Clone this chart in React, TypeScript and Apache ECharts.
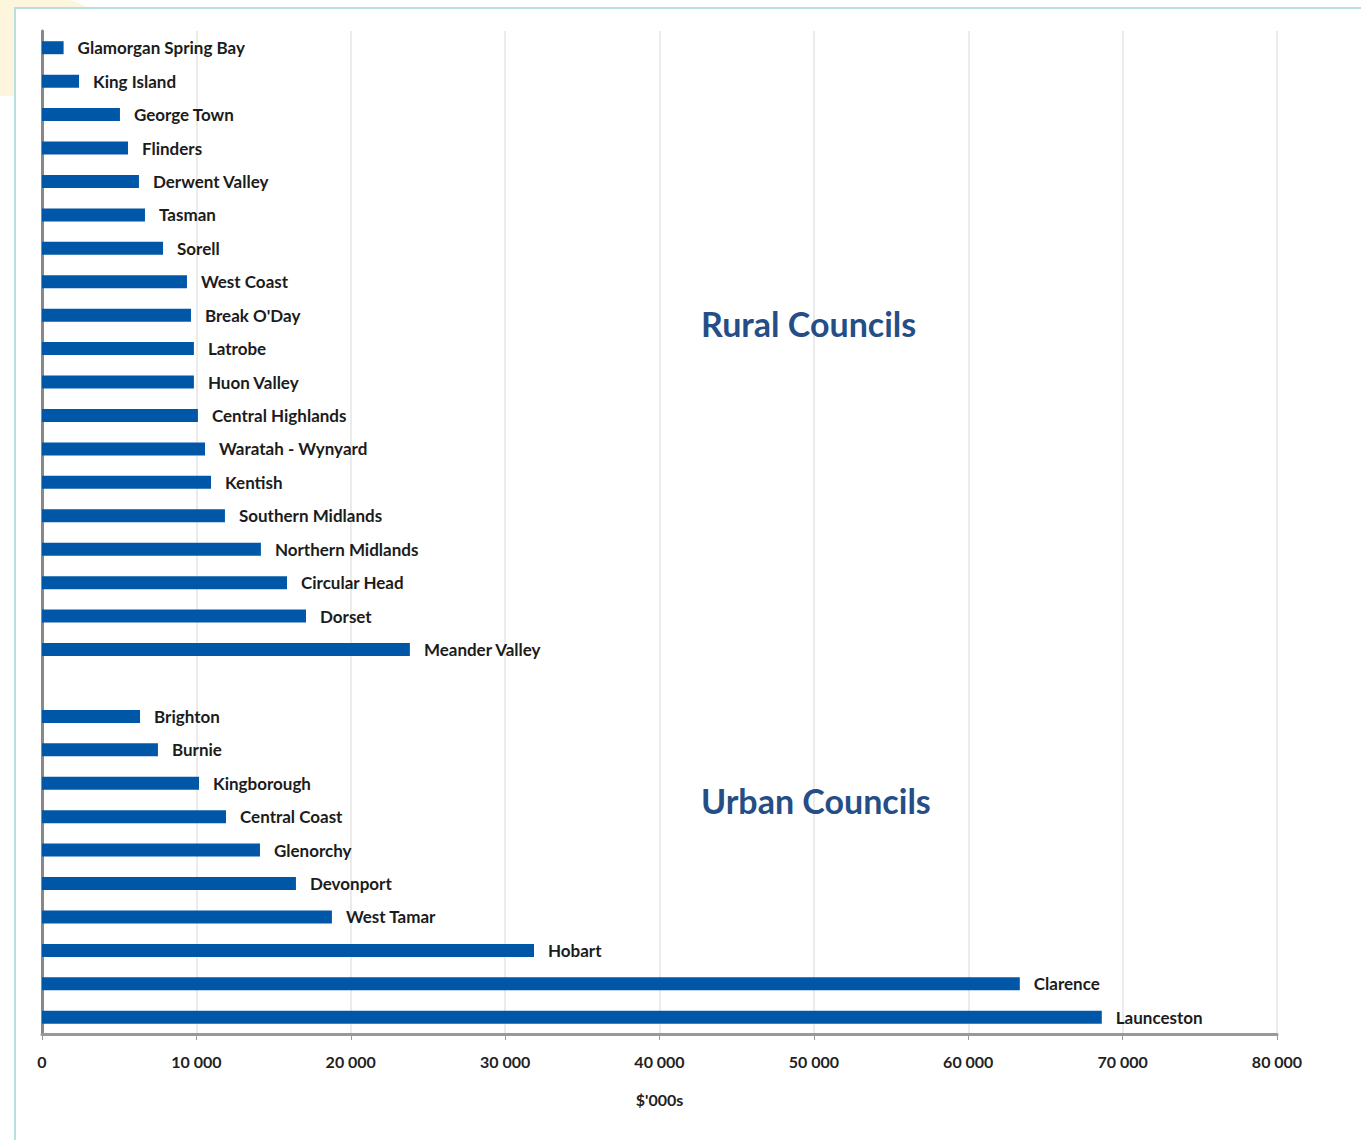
import React, { useEffect, useRef } from "react";
import * as echarts from "echarts";

const categories: string[] = [
  "Glamorgan Spring Bay", "King Island", "George Town", "Flinders", "Derwent Valley",
  "Tasman", "Sorell", "West Coast", "Break O'Day", "Latrobe", "Huon Valley",
  "Central Highlands", "Waratah - Wynyard", "Kentish", "Southern Midlands",
  "Northern Midlands", "Circular Head", "Dorset", "Meander Valley",
  "",
  "Brighton", "Burnie", "Kingborough", "Central Coast", "Glenorchy", "Devonport",
  "West Tamar", "Hobart", "Clarence", "Launceston",
];

const values: (number | null)[] = [
  1400, 2400, 5050, 5570, 6280, 6670, 7840, 9390, 9650, 9840, 9840,
  10100, 10560, 10950, 11850, 14180, 15870, 17100, 23830,
  null,
  6350, 7510, 10170, 11920, 14120, 16450, 18780, 31870, 63340, 68650,
];

const groupLabels = ["Rural Councils", "Urban Councils"];
const xTicks = { min: 0, max: 80000, interval: 10000 };
const axisTitle = "$'000s";

const FONT = "Lato, 'Open Sans', sans-serif";

export default function App() {
  const ref = useRef<HTMLDivElement>(null);
  useEffect(() => {
    if (!ref.current) return;
    const chart = echarts.init(ref.current, null, { renderer: "svg" });
    chart.setOption({
      animation: false,
      backgroundColor: "#ffffff",
      grid: { left: 42, right: 84, top: 31, bottom: 106, containLabel: false },
      graphic: [
        {
          type: "rect", z: -10, silent: true,
          shape: { x: 0, y: 0, width: 96, height: 96, r: [0, 30, 0, 0] },
          style: { fill: "#fef5dd" },
        },
        {
          type: "rect", z: -9, silent: true,
          shape: { x: 15, y: 8, width: 1400, height: 1200 },
          style: { fill: "#ffffff", stroke: "#b8e0e2", lineWidth: 2 },
        },
        {
          type: "text", left: 701, top: 306, z: 10,
          style: { text: groupLabels[0], font: `bold 34px ${FONT}`, fill: "#254e86" },
        },
        {
          type: "text", left: 701, top: 783, z: 10,
          style: { text: groupLabels[1], font: `bold 34px ${FONT}`, fill: "#254e86" },
        },
      ],
      xAxis: {
        type: "value",
        min: xTicks.min,
        max: xTicks.max,
        interval: xTicks.interval,
        name: axisTitle,
        nameLocation: "middle",
        nameGap: 57,
        nameTextStyle: { fontFamily: FONT, fontSize: 16, fontWeight: "bold", color: "#222" },
        axisLine: { show: true, lineStyle: { color: "#999", width: 3 } },
        axisTick: { show: true, length: 6, lineStyle: { color: "#999", width: 1 } },
        axisLabel: {
          margin: 19,
          fontFamily: FONT,
          fontSize: 16,
          fontWeight: "bold",
          color: "#222",
          formatter: (v: number) => String(v).replace(/\B(?=(\d{3})+(?!\d))/g, " "),
        },
        splitLine: { show: true, lineStyle: { color: "#ebebeb", width: 2 } },
      },
      yAxis: {
        type: "category",
        inverse: true,
        data: categories,
        axisLine: { show: true, onZero: false, lineStyle: { color: "#888", width: 3 } },
        axisTick: { show: false },
        axisLabel: { show: false },
        splitLine: { show: false },
      },
      series: [
        {
          type: "bar",
          data: values,
          barWidth: 13,
          itemStyle: { color: "#0057a8" },
          label: {
            show: true,
            position: "right",
            distance: 14,
            formatter: "{b}",
            fontFamily: FONT,
            fontSize: 17,
            fontWeight: "bold",
            color: "#1c1c1c",
          },
        },
      ],
    });
    return () => chart.dispose();
  }, []);
  return (
    <div
      ref={ref}
      style={{ position: "absolute", left: 0, top: 0, width: 1361, height: 1140 }}
    />
  );
}
